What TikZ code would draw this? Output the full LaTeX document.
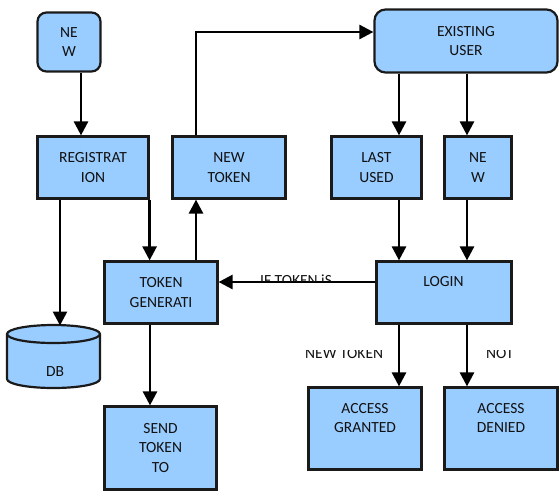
\documentclass[tikz,border=0pt]{standalone}
\usepackage{fontspec}
\setmainfont{Carlito}
\usetikzlibrary{arrows.meta,calc}
\definecolor{boxfill}{HTML}{99CCFF}
\definecolor{boxline}{HTML}{1A1A1A}
\definecolor{txtcol}{HTML}{111111}
\begin{document}
\begin{tikzpicture}[x=1pt,y=-1pt,
  box/.style={draw=boxline,fill=boxfill,line width=2.2pt,rectangle,inner sep=0pt,
    font=\fontsize{15.5}{19.5}\selectfont,align=center,text=txtcol},
  rbox/.style={box,rounded corners=9pt},
  txt/.style={inner sep=0pt,font=\fontsize{15.5}{19.5}\selectfont,align=center,text=txtcol},
  arr/.style={line width=2.6pt,-{Triangle[width=14pt,length=14pt]}},
  ln/.style={line width=2.6pt}]
\useasboundingbox (0,0) rectangle (559,491);
% reference x / y positions
\coordinate (xa) at (81,0);
\coordinate (xb) at (60,0);
\coordinate (xd) at (196,0);
\coordinate (xe) at (399,0);
\coordinate (xf) at (467,0);
\coordinate (xg) at (150,0);
\coordinate (yk) at (0,32);
\coordinate (yl) at (0,282);
% boxes
\node[rbox,minimum width=63pt,minimum height=59pt] (new) at (69,42) {NE\\W};
\node[box,minimum width=111pt,minimum height=62pt] (reg) at (93,167.5) {REGISTRAT\\ION};
\node[box,minimum width=113pt,minimum height=62pt] (ntok) at (229,167.5) {NEW\\TOKEN};
\node[rbox,rounded corners=11pt,minimum width=183pt,minimum height=63pt] (exist) at (466,41) {EXISTING\\USER};
\node[box,minimum width=90pt,minimum height=62pt] (last) at (376.5,167.5) {LAST\\USED};
\node[box,minimum width=67pt,minimum height=62pt] (new2) at (478,167.5) {NE\\W};
\node[box,minimum width=113pt,minimum height=62pt] (tgen) at (161,292.5) {TOKEN\\GENERATI};
\node[box,minimum width=135pt,minimum height=62pt] (login) at (444,292.5) {};
\node[txt] (logint) at (443.5,282) {LOGIN};
\node[box,minimum width=112pt,minimum height=83pt] (send) at (160.5,448) {SEND\\TOKEN\\TO};
\node[box,minimum width=113pt,minimum height=82pt] (grant) at (365,428.5) {};
\node[txt] (grantt) at (365,418) {ACCESS\\GRANTED};
\node[box,minimum width=113pt,minimum height=82pt] (deny) at (501,428.5) {};
\node[txt] (denyt) at (501,418) {ACCESS\\DENIED};
% database cylinder
\path[draw=boxline,fill=boxfill,line width=2.2pt]
  (7,379) arc[start angle=180,end angle=360,x radius=46.5pt,y radius=9pt]
  -- (100,334) arc[start angle=0,end angle=180,x radius=46.5pt,y radius=9pt] -- cycle;
\draw[boxline,line width=2.2pt] (7,334) arc[start angle=180,end angle=360,x radius=46.5pt,y radius=9pt];
\node[txt] (db) at (55,371.5) {DB};
\coordinate (dbtop) at (60,325.5);
% connectors
\draw[arr] (new.south -| xa) -- (reg.north -| xa);
\draw[arr] (reg.south -| xb) -- (dbtop);
\draw[arr] (reg.south east) -- (tgen.north -| reg.south east);
\draw[arr] (tgen.north -| xd) -- (ntok.south -| xd);
\draw[arr] (ntok.north -| xd) |- (exist.west |- yk);
\draw[arr] (exist.south -| xe) -- (last.north -| xe);
\draw[arr] (exist.south -| xf) -- (new2.north -| xf);
\draw[arr] (last.south -| xe) -- (login.north -| xe);
\draw[arr] (new2.south -| xf) -- (login.north -| xf);
\draw[arr] (login.west |- yl) -- (tgen.east |- yl);
\draw[arr] (login.south -| xe) -- (grant.north -| xe);
\draw[arr] (login.south -| xf) -- (deny.north -| xf);
\draw[arr] (tgen.south -| xg) -- (send.north -| xg);
% clipped edge labels
\begin{scope}
  \clip (240,260) rectangle (360,281);
  \node[txt,anchor=base west] (lblif) at (260,285) {IF TOKEN iS};
\end{scope}
\begin{scope}
  \clip (290,350) rectangle (530,370);
  \node[txt,anchor=base west] (lblnew) at (305,358) {NEW TOKEN};
  \node[txt,anchor=base west] (lblnot) at (486,358) {NOT};
\end{scope}
\end{tikzpicture}
\end{document}
